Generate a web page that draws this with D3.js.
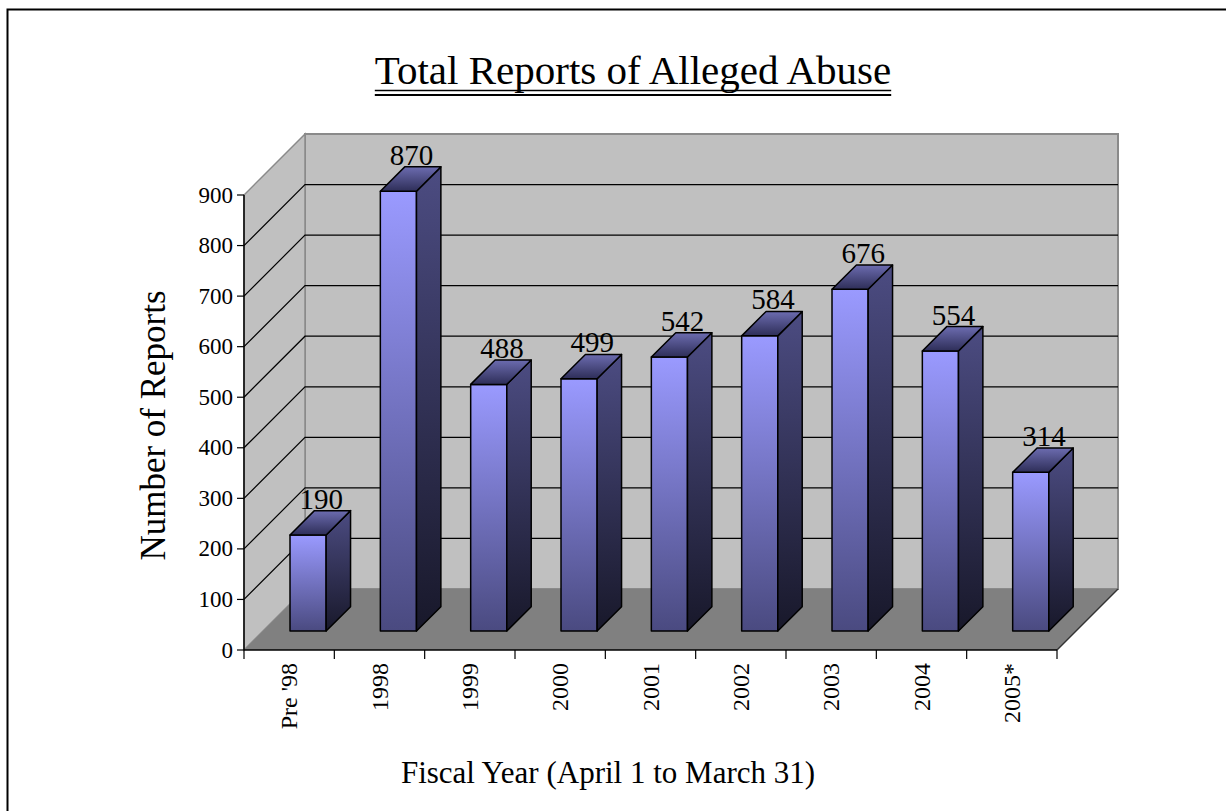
<!DOCTYPE html>
<html>
<head>
<meta charset="utf-8">
<script src="https://cdn.jsdelivr.net/npm/d3@7"></script>
<style>
  body { margin: 0; background: #fff; }
  text { font-family: "Liberation Serif", "Times New Roman", serif; fill: #000; }
</style>
</head>
<body>
<div id="chart"></div>
<script>
// Data
const categories = ["Pre '98", "1998", "1999", "2000", "2001", "2002", "2003", "2004", "2005*"];
const reports = [190, 870, 488, 499, 542, 584, 676, 554, 314];
const yTicks = [0, 100, 200, 300, 400, 500, 600, 700, 800, 900];

const W = 1226, H = 811;
const depth = 61;          // 3d offset of the back wall (px, up and right)
const zFront = 0.31, zBack = 0.71;  // bar placement in depth

const svg = d3.select("#chart").append("svg")
    .attr("width", W).attr("height", H);

// outer frame (runs off the page on right and bottom)
svg.append("rect")
    .attr("x", 7.5).attr("y", 9.5)
    .attr("width", 1400).attr("height", 1000)
    .attr("fill", "none").attr("stroke", "#000").attr("stroke-width", 2);

const x = d3.scaleBand().domain(categories).range([244, 1057]);
const y = d3.scaleLinear().domain([0, 900]).range([650, 195]);

// project a point (screen x at front, value, depth 0..1)
const P = (px, v, z) => [px + z * depth, y(v) - z * depth];
const poly = pts => "M" + pts.map(p => p.join(",")).join("L") + "Z";

const x0 = x.range()[0], x1 = x.range()[1];
const vMax = y.domain()[1];

// gradients
const defs = svg.append("defs");
function grad(id, stops) {
  const g = defs.append("linearGradient").attr("id", id)
      .attr("x1", 0).attr("y1", 0).attr("x2", 0).attr("y2", 1);
  stops.forEach(s => g.append("stop").attr("offset", s[0]).attr("stop-color", s[1]));
}
grad("gFront", [[0, "#9a9aff"], [1, "#4a4a80"]]);
grad("gSide", [[0, "#4c4c82"], [1, "#18182a"]]);
grad("gTop", [[0, "#6c6cb0"], [1, "#2e2e58"]]);

// back wall
svg.append("path")
    .attr("d", poly([P(x0, 0, 1), P(x1, 0, 1), P(x1, vMax, 1), P(x0, vMax, 1)]))
    .attr("fill", "#c0c0c0").attr("stroke", "#8a8a8a").attr("stroke-width", 2);
// side wall
svg.append("path")
    .attr("d", poly([P(x0, 0, 0), P(x0, 0, 1), P(x0, vMax, 1), P(x0, vMax, 0)]))
    .attr("fill", "#c0c0c0").attr("stroke", "#8a8a8a").attr("stroke-width", 1.5);

// gridlines on the walls
const grid = yTicks.filter(v => v > 0 && v < vMax);
svg.append("g").selectAll("path")
  .data(grid).join("path")
    .attr("d", v => "M" + P(x0, v, 0) + "L" + P(x0, v, 1) + "L" + P(x1, v, 1))
    .attr("fill", "none").attr("stroke", "#000").attr("stroke-width", 1.2);

// floor
svg.append("path")
    .attr("d", poly([P(x0, 0, 0), P(x1, 0, 0), P(x1, 0, 1), P(x0, 0, 1)]))
    .attr("fill", "#808080");
svg.append("path")
    .attr("d", "M" + P(x1, 0, 0) + "L" + P(x1, 0, 1))
    .attr("stroke", "#333").attr("stroke-width", 1.5);

// y axis
svg.append("line")
    .attr("x1", x0).attr("x2", x0).attr("y1", y(0)).attr("y2", y(vMax))
    .attr("stroke", "#000").attr("stroke-width", 1.5);
const yg = svg.append("g").selectAll("g").data(yTicks).join("g");
yg.append("line")
    .attr("x1", x0 - 7).attr("x2", x0).attr("y1", d => y(d)).attr("y2", d => y(d))
    .attr("stroke", "#000").attr("stroke-width", 1.2);
yg.append("text")
    .attr("x", x0 - 11).attr("y", d => y(d))
    .attr("text-anchor", "end").attr("dominant-baseline", "central")
    .style("font-size", "23px")
    .text(d => d);

// x axis
svg.append("line")
    .attr("x1", x0).attr("x2", x1).attr("y1", y(0)).attr("y2", y(0))
    .attr("stroke", "#000").attr("stroke-width", 1.5);
const bounds = categories.map(c => x(c)).concat([x1]);
svg.append("g").selectAll("line").data(bounds).join("line")
    .attr("x1", d => d).attr("x2", d => d)
    .attr("y1", y(0)).attr("y2", y(0) + 9)
    .attr("stroke", "#000").attr("stroke-width", 1.2);
svg.append("g").selectAll("text").data(categories).join("text")
    .attr("transform", c => `translate(${x(c) + x.bandwidth() / 2 + 8},${y(0) + 13}) rotate(-90)`)
    .attr("text-anchor", "end")
    .style("font-size", "24px")
    .text(c => c);

// bars
const half = x.bandwidth() * 0.2;
const barData = categories.map((c, i) => ({ c, v: reports[i] }));
const bars = svg.append("g").selectAll("g")
  .data(barData)
  .join("g");

bars.append("path") // front
    .attr("d", d => {
      const cx = x(d.c) + x.bandwidth() / 2;
      return poly([P(cx - half, d.v, zFront), P(cx + half, d.v, zFront),
                   P(cx + half, 0, zFront), P(cx - half, 0, zFront)]);
    })
    .attr("fill", "url(#gFront)").attr("stroke", "#000").attr("stroke-width", 1.5)
    .attr("stroke-linejoin", "round");
bars.append("path") // side
    .attr("d", d => {
      const cx = x(d.c) + x.bandwidth() / 2;
      return poly([P(cx + half, d.v, zFront), P(cx + half, d.v, zBack),
                   P(cx + half, 0, zBack), P(cx + half, 0, zFront)]);
    })
    .attr("fill", "url(#gSide)").attr("stroke", "#000").attr("stroke-width", 1.5)
    .attr("stroke-linejoin", "round");
bars.append("path") // top
    .attr("d", d => {
      const cx = x(d.c) + x.bandwidth() / 2;
      return poly([P(cx - half, d.v, zFront), P(cx + half, d.v, zFront),
                   P(cx + half, d.v, zBack), P(cx - half, d.v, zBack)]);
    })
    .attr("fill", "url(#gTop)").attr("stroke", "#000").attr("stroke-width", 1.5)
    .attr("stroke-linejoin", "round");

// value labels, centred on the top face, sitting just above its back edge
svg.append("g").selectAll("text")
  .data(barData)
  .join("text")
    .attr("x", d => x(d.c) + x.bandwidth() / 2 + (zFront + zBack) / 2 * depth + 1)
    .attr("y", d => P(0, d.v, zBack)[1] - 2)
    .attr("text-anchor", "middle")
    .style("font-size", "29px")
    .text(d => d.v);

// title with double underline
const tx = 633;
const title = svg.append("text")
    .attr("x", tx).attr("y", 84)
    .attr("text-anchor", "middle")
    .style("font-size", "41px")
    .text("Total Reports of Alleged Abuse");
const tw = title.node().getComputedTextLength();
[90.5, 95].forEach((ly, i) => {
  svg.append("line")
      .attr("x1", tx - tw / 2).attr("x2", tx + tw / 2)
      .attr("y1", ly).attr("y2", ly)
      .attr("stroke", "#000").attr("stroke-width", i ? 2 : 1.5);
});

// axis titles
svg.append("text")
    .attr("transform", `translate(165,${(y(0) + y(vMax)) / 2 + 3}) rotate(-90)`)
    .attr("text-anchor", "middle")
    .style("font-size", "35px")
    .text("Number of Reports");

svg.append("text")
    .attr("x", 608).attr("y", 783)
    .attr("text-anchor", "middle")
    .style("font-size", "31px")
    .text("Fiscal Year (April 1 to March 31)");
</script>
</body>
</html>
